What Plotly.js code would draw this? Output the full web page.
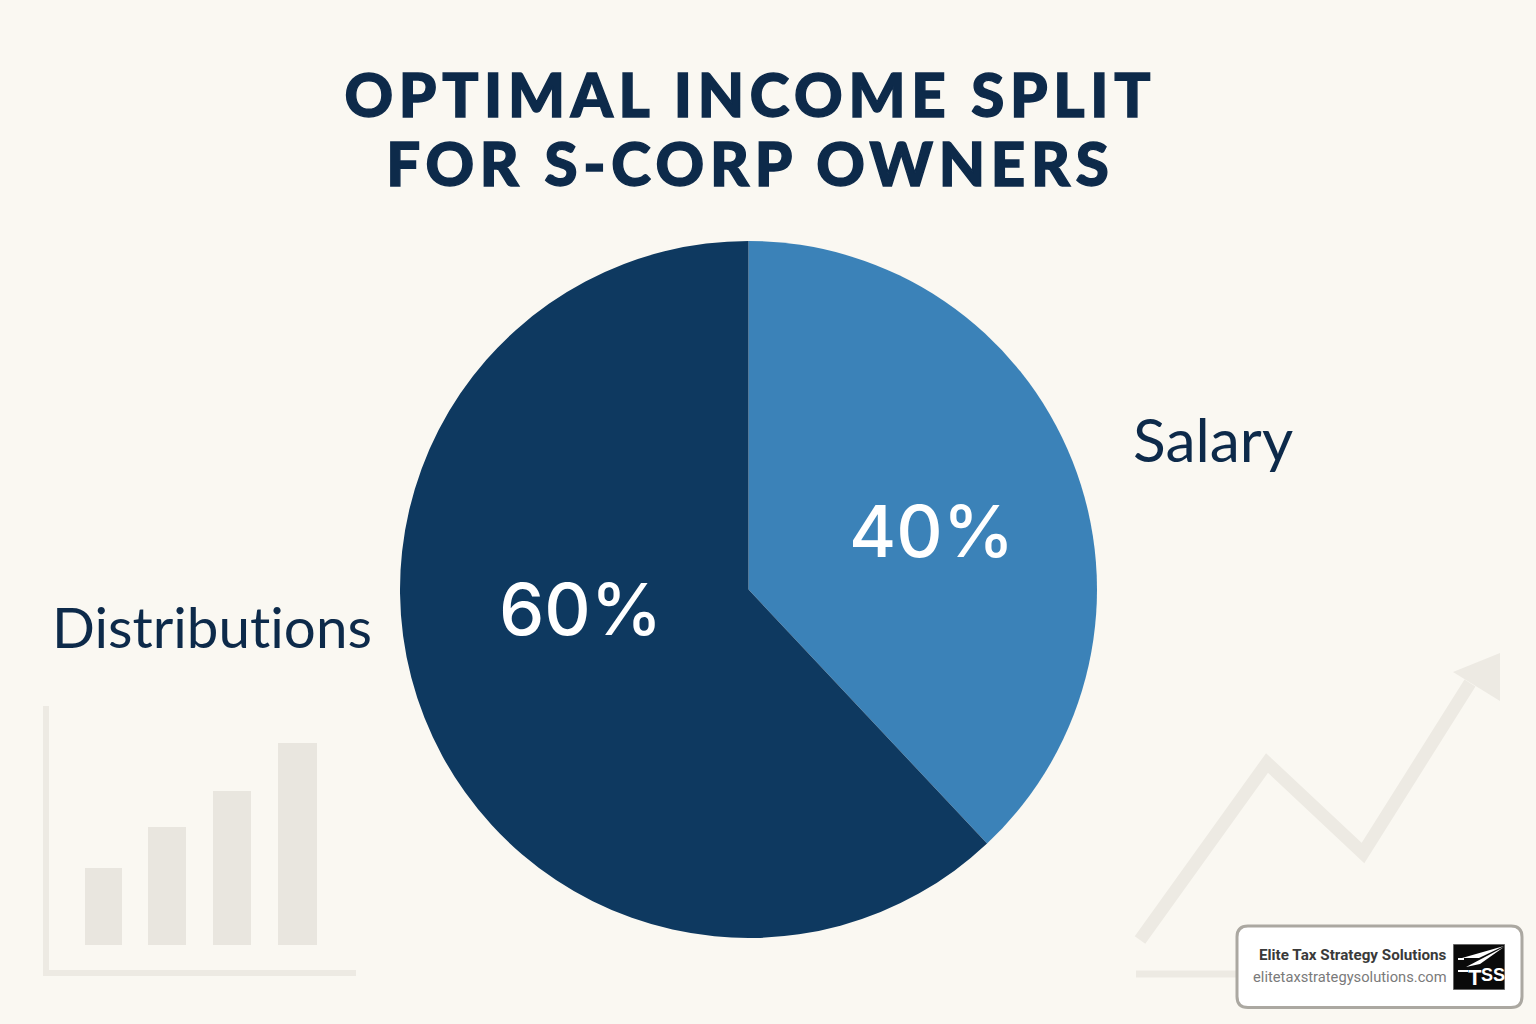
<!DOCTYPE html>
<html><head><meta charset="utf-8">
<script src="https://cdn.plot.ly/plotly-3.0.1.min.js"></script>
<style>
html,body{margin:0;padding:0;background:#FAF8F2}
#c{width:1536px;height:1024px}
.gtitle{letter-spacing:5.7px;stroke:#0D2A4A;stroke-width:1.4px}
.annotation-text{letter-spacing:0.01px}
</style></head><body><div id="c"></div>
<script>
const categories=["Salary","Distributions"];
const drawnShares=[38,62];
const percentLabels=["40%","60%"];
const sliceColors=["#3B82B8","#0E3960"];
const bgBarX=[54.5,118,183,248.5];
const bgBarHeights=[77,118,154,202];
const bgBarWidths=[37,38,38,39];
const bgLineX=[21,148,244,351];
const bgLineY=[21,198,108,278];
const arrowX=[381,334,381,381];
const arrowY=[308,289,260,308];
const title="OPTIMAL INCOME SPLIT<br>FOR S-CORP OWNERS";
const brandName="Elite Tax Strategy Solutions";
const brandUrl="elitetaxstrategysolutions.com";
const W=1536,H=1024,px=x=>x/W,py=y=>1-y/H;
const decor="#EDEAE3",ink="#0D2A4A";
const traces=[
{type:"bar",x:bgBarX,y:bgBarHeights,base:25,width:bgBarWidths,marker:{color:"#E9E6DF"},xaxis:"x",yaxis:"y",hoverinfo:"skip"},
{type:"scatter",mode:"lines",x:bgLineX,y:bgLineY,line:{color:decor,width:13,simplify:false},xaxis:"x2",yaxis:"y2",hoverinfo:"skip"},
{type:"scatter",mode:"lines",fill:"toself",fillcolor:decor,x:arrowX,y:arrowY,line:{color:decor,width:0},xaxis:"x2",yaxis:"y2",hoverinfo:"skip"},
{type:"pie",labels:categories,values:drawnShares,sort:false,direction:"clockwise",rotation:0,
 marker:{colors:sliceColors,line:{width:0}},textinfo:"none",
 domain:{x:[px(400),px(1097)],y:[py(938.5),py(240.5)]},showlegend:false,hoverinfo:"label"}
];
const poly=pts=>"M"+pts.map(p=>px(p[0])+","+py(p[1])).join(" L")+" Z";
const card=(a,b,c,d,r)=>"M"+px(a+r)+","+py(b)+" L"+px(c-r)+","+py(b)+" Q"+px(c)+","+py(b)+" "+px(c)+","+py(b+r)+" L"+px(c)+","+py(d-r)+" Q"+px(c)+","+py(d)+" "+px(c-r)+","+py(d)+" L"+px(a+r)+","+py(d)+" Q"+px(a)+","+py(d)+" "+px(a)+","+py(d-r)+" L"+px(a)+","+py(b+r)+" Q"+px(a)+","+py(b)+" "+px(a+r)+","+py(b)+" Z";
const paper={xref:"paper",yref:"paper"};
const hidden={visible:true,showgrid:false,zeroline:false,showticklabels:false,ticks:"",fixedrange:true};
const text=(t,x,y,xanchor,size,family,color,weight)=>({text:t,...paper,x:px(x),y:py(y),xanchor:xanchor,yanchor:"middle",showarrow:false,font:{family:family,size:size,color:color,weight:weight||400}});
const white=(pts)=>({type:"path",...paper,path:poly(pts),fillcolor:"#FFFFFF",line:{width:0},layer:"above"});
const layout={
 width:W,height:H,margin:{l:0,r:0,t:0,b:0},paper_bgcolor:"#FAF8F2",plot_bgcolor:"rgba(0,0,0,0)",showlegend:false,
 title:{text:title,font:{family:"Lato, sans-serif",size:60,weight:900,color:ink},x:0.4885,xanchor:"center",y:0.886,yanchor:"middle"},
 xaxis:{...hidden,domain:[px(49),px(356)],range:[0,307],showline:true,linecolor:decor,linewidth:6},
 yaxis:{...hidden,domain:[py(970),py(706)],range:[0,264],showline:true,linecolor:decor,linewidth:6},
 xaxis2:{...hidden,domain:[px(1119),px(1500)],range:[0,381],anchor:"y2"},
 yaxis2:{...hidden,domain:[py(961),py(653)],range:[0,308],anchor:"x2"},
 shapes:[
  {type:"line",...paper,x0:px(1136),x1:px(1240),y0:py(974),y1:py(974),line:{color:decor,width:7},layer:"below"},
  {type:"path",...paper,path:card(1237,926,1522,1007.5,11),fillcolor:"#FFFFFF",line:{color:"#ABA8A1",width:3},layer:"above"},
  {type:"rect",...paper,x0:px(1453.5),x1:px(1504.5),y0:py(989.5),y1:py(944.5),fillcolor:"#0A0A0A",line:{color:"#666",width:1},layer:"above"},
  white([[1504,946],[1462,958],[1479,958]]),
  white([[1504,947],[1466,967],[1480,964]]),
  white([[1458,958],[1464,958],[1464,960],[1458,960]]),
  white([[1458,970],[1468,970],[1468,972],[1458,972]])
 ],
 annotations:[
  text(percentLabels[0],931,530,"center",72,"Inter, sans-serif","#FFFFFF",500),
  text(percentLabels[1],580,608,"center",72,"Inter, sans-serif","#FFFFFF",500),
  text(categories[0],1212.5,438.5,"center",60.5,"Lato, sans-serif",ink),
  text(categories[1],211.5,625.5,"center",56.5,"Lato, sans-serif",ink),
  text("<b>"+brandName+"</b>",1449,955,"right",15.2,"Roboto, sans-serif","#3A3A3A"),
  text(brandUrl,1449,977,"right",14.7,"Roboto, sans-serif","#7A7A7A"),
  text("<b>T</b>",1475,977,"center",22,"Liberation Sans Narrow, Liberation Sans, sans-serif","#FFFFFF"),
  text("<b>SS</b>",1493,975,"center",18,"Liberation Sans Narrow, Liberation Sans, sans-serif","#FFFFFF")
 ]
};
Plotly.newPlot("c",traces,layout,{displayModeBar:false,responsive:false}).then(()=>{
 document.querySelectorAll(".gtitle tspan.line").forEach((t,i)=>{if(i>0)t.setAttribute("dy","69px");});
});
</script></body></html>
